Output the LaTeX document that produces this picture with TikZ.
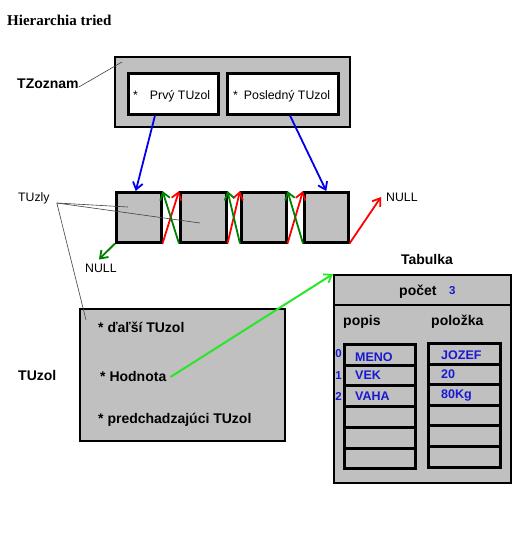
\documentclass[tikz,border=0pt]{standalone}
\usepackage{fontspec}
\setmainfont{Liberation Sans}
\newfontfamily\seriffont{Liberation Serif}
\usetikzlibrary{arrows.meta}
\definecolor{boxgray}{RGB}{192,192,192}
\definecolor{arrblue}{RGB}{0,0,235}
\definecolor{arrred}{RGB}{255,0,0}
\definecolor{arrgreen}{RGB}{0,128,0}
\definecolor{limegreen}{RGB}{40,230,40}
\definecolor{txtblue}{RGB}{25,25,210}
\tikzset{
  lbl/.style={inner sep=0pt, anchor=west, font=\fontsize{14}{16}\selectfont\bfseries},
  txt/.style={inner sep=0pt, anchor=west, font=\fontsize{12.3}{14}\selectfont},
  celltxt/.style={inner sep=0pt, anchor=west, text=txtblue, font=\fontsize{12.5}{14}\selectfont\bfseries},
  idxtxt/.style={inner sep=0pt, anchor=east, text=txtblue, font=\fontsize{11.5}{13}\selectfont\bfseries},
  graybox/.style={draw=black, line width=2pt, fill=boxgray, inner sep=0pt, anchor=north west},
  whitebox/.style={draw=black, line width=2.5pt, fill=white, inner sep=0pt, anchor=north west},
  listbox/.style={draw=black, line width=2.5pt, fill=boxgray, inner sep=0pt, anchor=north west, minimum height=50pt},
  cellbox/.style={draw=black, line width=3pt, fill=boxgray, inner sep=0pt, anchor=north west, minimum height=20.7pt},
  ptr/.style={-{Straight Barb[length=7pt,width=10pt,line width=1.8pt]}, line width=1.8pt},
  thinline/.style={line width=0.6pt, black!75}
}
\begin{document}
\begin{tikzpicture}[x=1pt,y=-1pt]
\fill[white] (0,0) rectangle (518,550);
\useasboundingbox (0,0) rectangle (518,550);

% title
\node[inner sep=0pt, anchor=west, font=\seriffont\bfseries\fontsize{15}{17}\selectfont] (title) at (7,20) {Hierarchia tried};

% TZoznam
\node[lbl] (tzlbl) at (17,84) {TZoznam};
\node[graybox, minimum width=235pt, minimum height=70pt] (tz) at (114,56) {};
\node[whitebox, minimum width=90pt, minimum height=41pt] (prvy) at (127,72) {};
\node[whitebox, minimum width=111pt, minimum height=41pt] (posl) at (226,72) {};
\node[txt] (prvyt) at (133,96) {*\hspace{12pt}Prvý TUzol};
\node[txt] (poslt) at (233,96) {*\hspace{6pt}Posledný TUzol};
\coordinate (tzc) at ([xshift=8pt,yshift=-6pt]tz.north west);
\draw[thinline] ([yshift=-3pt]tzlbl.east) -- (tzc);

% list nodes
\node[listbox, minimum width=45pt] (n1) at (115,191) {};
\node[listbox, minimum width=46pt] (n2) at (179,191) {};
\node[listbox, minimum width=45pt] (n3) at (240,191) {};
\node[listbox, minimum width=44pt] (n4) at (303,191) {};

\node[txt] (nullr) at (386,197) {NULL};
\node[txt] (nulll) at (85,268) {NULL};

% pointers from TZoznam
\draw[ptr, arrblue] ([xshift=28pt]prvy.south west) -- ([xshift=-3pt]n1.north);
\draw[ptr, arrblue] ([xshift=64pt]posl.south west) -- (n4.north);

% next (red) and previous (green) pointers
\draw[ptr, arrred] (n1.south east) -- (n2.north west);
\draw[ptr, arrred] (n2.south east) -- (n3.north west);
\draw[ptr, arrred] (n3.south east) -- (n4.north west);
\draw[ptr, arrred] (n4.south east) -- ([xshift=-5pt]nullr.west);
\draw[ptr, arrgreen] (n2.south west) -- (n1.north east);
\draw[ptr, arrgreen] (n3.south west) -- (n2.north east);
\draw[ptr, arrgreen] (n4.south west) -- (n3.north east);
\draw[ptr, arrgreen] (n1.south west) -- ([xshift=-2pt,yshift=4pt]nulll.north);

% TUzly
\node[txt] (tuzly) at (18,198) {TUzly};
\coordinate (tuzc) at ([xshift=7pt,yshift=-5pt]tuzly.east);

% TUzol box
\node[lbl] (tuzollbl) at (18,375) {TUzol};
\node[graybox, minimum width=205pt, minimum height=132pt] (tuzol) at (79,308) {};
\node[lbl] (dalsi) at (98,327) {* ďaľší TUzol};
\node[lbl] (hodn) at (100,376) {* Hodnota};
\node[lbl] (pred) at (98,420) {* predchadzajúci TUzol};

\draw[thinline] (tuzc) -- ([xshift=13pt,yshift=-16pt]n1.north west);
\draw[thinline] (tuzc) -- ([xshift=21pt,yshift=-32pt]n2.north west);
\draw[thinline] (tuzc) -- ([xshift=7pt,yshift=-12pt]tuzol.north west);

% Tabulka
\node[lbl, anchor=center] (tablbl) at (427,259) {Tabulka};
\node[graybox, minimum width=177pt, minimum height=208pt] (tab) at (333,274) {};
\draw[line width=2pt] ([yshift=-31pt]tab.north west) -- ([yshift=-31pt]tab.north east);
\node[lbl] (pocet) at (399,292) {počet};
\node[idxtxt, anchor=west] (pocetv) at (449,291) {3};
\node[lbl] (popis) at (343,322) {popis};
\node[lbl] (polozka) at (431,322) {položka};

\foreach \i in {0,...,5} {
  \node[cellbox, minimum width=71pt] (cl\i) at (343,{343+20.7*\i}) {};
  \node[cellbox, minimum width=72pt] (cr\i) at (427,{342+20.6*\i}) {};
}
\node[celltxt] (meno) at ([xshift=12pt,yshift=-2pt]cl0.west) {MENO};
\node[celltxt] (vek) at ([xshift=12pt,yshift=0pt]cl1.west) {VEK};
\node[celltxt] (vaha) at ([xshift=12pt,yshift=0pt]cl2.west) {VAHA};
\node[celltxt] (jozef) at ([xshift=14pt,yshift=-1.5pt]cr0.west) {JOZEF};
\node[celltxt] (vek20) at ([xshift=14pt]cr1.west) {20};
\node[celltxt] (vaha80) at ([xshift=14pt]cr2.west) {80Kg};
\node[idxtxt] (i0) at ([xshift=-1pt,yshift=1pt]cl0.west) {0};
\node[idxtxt] (i1) at ([xshift=-1pt]cl1.west) {1};
\node[idxtxt] (i2) at ([xshift=-1pt]cl2.west) {2};

% Hodnota -> Tabulka
\draw[ptr, limegreen, line width=2pt] ([xshift=4pt,yshift=-1pt]hodn.east) -- (tab.north west);
\end{tikzpicture}
\end{document}
